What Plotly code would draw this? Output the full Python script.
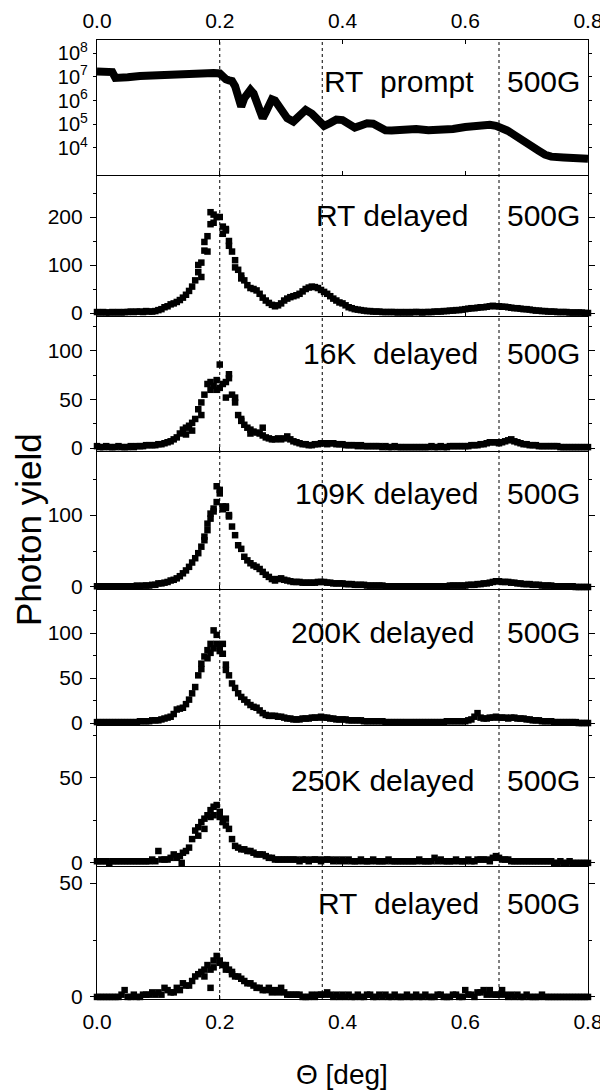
import numpy as np
import plotly.graph_objects as go

# ---------------- data ----------------
# prompt signal (top panel, log scale)
prompt_theta = [0, 0.01, 0.02, 0.025, 0.03, 0.04, 0.05, 0.07, 0.1, 0.13, 0.16, 0.19, 0.2, 0.205,
                0.21, 0.215, 0.22, 0.225, 0.23, 0.235, 0.24, 0.245, 0.25, 0.255, 0.26, 0.265, 0.27,
                0.275, 0.28, 0.285, 0.29, 0.295, 0.3, 0.31, 0.32, 0.33, 0.34, 0.35, 0.36, 0.37, 0.38,
                0.39, 0.40, 0.41, 0.42, 0.43, 0.44, 0.45, 0.46, 0.47, 0.48, 0.5, 0.52, 0.54, 0.56,
                0.58, 0.6, 0.62, 0.64, 0.65, 0.66, 0.67, 0.68, 0.69, 0.7, 0.71, 0.72, 0.73, 0.74,
                0.76, 0.78, 0.8]
prompt_yield = [1.66e7, 1.66e7, 1.78e7, 1.58e7, 8.9e6, 8.5e6, 9.5e6, 1.07e7, 1.2e7, 1.32e7, 1.38e7,
                1.45e7, 1.38e7, 1.0e7, 7.9e6, 7.1e6, 6.6e6, 4.0e6, 1.6e6, 5.5e5, 1.26e6, 2.2e6, 2.8e6,
                2.0e6, 1.0e6, 4.0e5, 1.8e5, 3.2e5, 7.1e5, 1.12e6, 1.0e6, 6.3e5, 4.0e5, 1.8e5, 1.3e5,
                2.5e5, 4.0e5, 2.8e5, 1.4e5, 8.5e4, 1.12e5, 1.58e5, 1.5e5, 1.0e5, 7.2e4, 8.9e4, 1.1e5,
                1.05e5, 7.6e4, 5.6e4, 5.4e4, 6.3e4, 6.3e4, 5.6e4, 5.4e4, 6.3e4, 7.6e4, 8.9e4, 9.5e4,
                8.5e4, 7.1e4, 5.2e4, 3.5e4, 2.5e4, 1.8e4, 1.12e4, 7.6e3, 5.2e3, 4.3e3, 4.0e3, 3.8e3,
                3.5e3]

# delayed signals: common scan grid 0.000 ... 0.800 (step 0.005)
theta = np.round(np.arange(161) * 0.005, 3)

rt_delayed = [2, 1, 2, 1, 1, 2, 1, 2, 1, 2, 2, 3, 2, 3, 3, 2, 4, 3, 3, 4,
              6, 8, 12, 14, 18, 20, 23, 27, 32, 38, 46, 55, 68, 85, 105, 130, 160, 185, 205, 200,
              200, 180, 172, 150, 128, 110, 90, 78, 68, 58, 52, 50, 47, 40, 32, 26, 21, 17, 14, 16,
              20, 26, 30, 33, 35, 37, 40, 45, 50, 53, 55, 54, 52, 48, 44, 40, 35, 30, 26, 22,
              20, 16, 12, 10, 8, 7, 6, 5, 4, 4, 3, 3, 3, 2, 2, 2, 2, 2, 1, 2,
              1, 2, 1, 2, 2, 2, 1, 2, 2, 2, 3, 3, 3, 4, 4, 5, 5, 6, 6, 7,
              8, 9, 10, 10, 11, 12, 12, 13, 14, 15, 14, 14, 13, 13, 12, 11, 10, 10, 9, 8,
              8, 7, 6, 5, 5, 4, 4, 3, 3, 3, 2, 2, 2, 2, 1, 1, 1, 1, 1, 0, 0]
rt_delayed_x2 = [0.165, 0.175, 0.185, 0.19, 0.205, 0.21, 0.215, 0.225, 0.235, 0.17, 0.18]
rt_delayed_y2 = [100, 148, 210, 188, 165, 175, 140, 95, 72, 75, 128]

k16_delayed = [2, 1, 1, 2, 1, 1, 1, 2, 1, 1, 1, 2, 1, 2, 2, 2, 3, 3, 3, 3,
               4, 4, 5, 6, 7, 9, 11, 15, 19, 21, 23, 26, 30, 40, 47, 55, 66, 68, 64, 60,
               62, 66, 68, 72, 55, 47, 34, 30, 24, 21, 19, 17, 16, 15, 13, 11, 10, 9, 9, 10,
               9, 10, 12, 9, 7, 6, 5, 4, 4, 3, 3, 4, 4, 5, 5, 4, 5, 5, 4, 4,
               4, 3, 3, 3, 3, 2, 3, 2, 2, 2, 2, 2, 2, 1, 2, 1, 1, 2, 1, 1,
               1, 1, 1, 1, 1, 1, 1, 1, 1, 2, 1, 1, 2, 1, 1, 2, 2, 2, 2, 2,
               2, 2, 3, 3, 3, 4, 4, 5, 6, 6, 6, 5, 6, 7, 8, 9, 7, 6, 5, 4,
               4, 3, 3, 3, 2, 2, 2, 2, 2, 2, 2, 1, 1, 1, 1, 1, 1, 1, 1, 1, 1]
k16_delayed_x2 = [0.2, 0.195, 0.21, 0.185, 0.215, 0.17, 0.155, 0.145, 0.27, 0.225, 0.235, 0.25]
k16_delayed_y2 = [86, 70, 52, 60, 76, 34, 18, 14, 21, 52, 28, 15]

k109_delayed = [1, 1, 1, 1, 1, 1, 1, 1, 1, 1, 1, 1, 1, 2, 1, 2, 2, 2, 3, 3,
                5, 5, 6, 7, 9, 10, 12, 15, 19, 23, 28, 34, 40, 47, 56, 65, 79, 95, 105, 118,
                135, 112, 110, 98, 84, 72, 58, 53, 42, 37, 33, 30, 28, 25, 21, 17, 14, 11, 9, 11,
                12, 10, 9, 8, 7, 7, 7, 6, 6, 6, 6, 6, 7, 7, 7, 6, 6, 5, 5, 5,
                5, 4, 4, 4, 3, 3, 3, 3, 2, 2, 2, 2, 2, 2, 1, 1, 1, 1, 1, 1,
                1, 1, 1, 1, 1, 1, 1, 1, 1, 1, 1, 1, 1, 1, 1, 2, 2, 2, 2, 2,
                2, 3, 3, 3, 4, 4, 5, 5, 6, 7, 8, 8, 7, 7, 7, 6, 6, 5, 5, 4,
                4, 4, 3, 3, 3, 2, 2, 2, 2, 1, 1, 1, 1, 1, 1, 1, 0, 0, 0, 0, 0]
k109_delayed_x2 = [0.185, 0.19, 0.2, 0.195, 0.205, 0.21, 0.18, 0.215, 0.175]
k109_delayed_y2 = [102, 109, 130, 140, 108, 112, 88, 100, 70]

k200_delayed = [1, 1, 1, 1, 1, 1, 1, 1, 1, 1, 1, 1, 1, 1, 2, 2, 2, 2, 3, 3,
                3, 4, 5, 6, 7, 10, 15, 16, 17, 21, 26, 33, 40, 53, 66, 74, 81, 88, 83, 88,
                86, 77, 59, 53, 44, 39, 33, 29, 26, 23, 20, 18, 17, 14, 11, 9, 8, 8, 8, 7,
                7, 6, 5, 5, 4, 4, 4, 5, 5, 5, 6, 6, 6, 7, 6, 6, 5, 5, 4, 4,
                4, 4, 3, 3, 3, 3, 3, 2, 2, 2, 2, 2, 2, 2, 1, 1, 1, 1, 1, 1,
                1, 1, 1, 1, 1, 1, 1, 1, 1, 1, 1, 1, 1, 1, 2, 2, 2, 2, 2, 2,
                2, 3, 4, 7, 11, 6, 5, 5, 6, 6, 7, 6, 6, 6, 5, 6, 6, 5, 5, 5,
                4, 4, 3, 3, 3, 2, 2, 2, 2, 1, 1, 1, 1, 1, 1, 1, 1, 0, 0, 0, 0]
k200_delayed_x2 = [0.19, 0.195, 0.205, 0.185, 0.18, 0.2, 0.21, 0.17]
k200_delayed_y2 = [103, 98, 88, 78, 72, 80, 65, 60]

k250_delayed = [1, 1, 1, 1, 0, 1, 1, 1, 1, 1, 1, 1, 1, 1, 1, 1, 1, 1, 2, 1,
                7, 2, 2, 2, 3, 5, 3, 4, 6, 7, 9, 14, 19, 21, 24, 26, 28, 31, 33, 34,
                27, 24, 26, 20, 14, 10, 9, 8, 8, 7, 7, 6, 5, 5, 5, 4, 3, 3, 2, 2,
                2, 2, 2, 2, 2, 2, 1, 2, 2, 1, 2, 2, 2, 1, 2, 2, 2, 1, 2, 1,
                2, 1, 2, 1, 1, 1, 2, 1, 1, 1, 2, 1, 1, 1, 1, 2, 1, 1, 1, 1,
                1, 1, 1, 1, 1, 2, 1, 1, 1, 1, 3, 1, 2, 1, 1, 1, 1, 2, 1, 1,
                1, 2, 1, 1, 2, 2, 2, 2, 1, 3, 4, 3, 2, 2, 2, 1, 1, 1, 1, 1,
                1, 1, 1, 1, 1, 1, 1, 1, 1, 0, 0, 1, 0, 0, 1, 0, 0, 0, 0, 0, 0]
k250_delayed_x2 = [0.138, 0.19, 0.185, 0.2, 0.21, 0.175, 0.165]
k250_delayed_y2 = [0, 28, 27, 30, 22, 20, 16]

rt2_delayed = [0, 0, 0, 0, 0, 0, 0, 0, 1, 3, 0, 0, 1, 0, 0, 1, 1, 1, 2, 1,
               2, 1, 4, 3, 2, 2, 4, 3, 6, 5, 5, 7, 9, 10, 11, 12, 14, 12, 16, 18,
               15, 14, 14, 12, 11, 9, 9, 8, 7, 6, 6, 5, 4, 4, 3, 3, 4, 2, 3, 2,
               4, 2, 1, 1, 1, 1, 1, 0, 0, 0, 1, 0, 1, 1, 1, 2, 1, 0, 1, 0,
               1, 0, 1, 0, 0, 1, 0, 0, 1, 1, 0, 0, 1, 0, 1, 0, 0, 1, 0, 0,
               0, 1, 0, 0, 1, 0, 0, 1, 0, 0, 0, 1, 1, 0, 0, 0, 1, 1, 0, 0,
               3, 1, 1, 0, 2, 2, 3, 1, 3, 1, 1, 1, 3, 1, 0, 1, 0, 1, 0, 0,
               1, 0, 0, 0, 0, 1, 0, 0, 0, 0, 0, 0, 0, 0, 0, 0, 0, 0, 0, 0, 0]
rt2_delayed_x2 = [0.185, 0.19, 0.2, 0.21, 0.175, 0.22]
rt2_delayed_y2 = [4, 13, 16, 12, 9, 10]

panel_labels = ["RT&nbsp;&nbsp;prompt", "RT delayed", "16K&nbsp;&nbsp;delayed", "109K delayed",
                "200K delayed", "250K delayed", "RT&nbsp;&nbsp;delayed"]
field_label = "500G"
x_ticks = [0.0, 0.2, 0.4, 0.6, 0.8]
x_ticktext = ["0.0", "0.2", "0.4", "0.6", "0.8"]
guide_lines = [0.2, 0.367, 0.655]

# ---------------- layout helpers ----------------
# the page body has an 8px margin, so the figure is made 8px smaller and
# all positions below are given in page pixels and converted.
OFF = 8
PAGE_W, PAGE_H = 608, 1091
W, H = PAGE_W - OFF, PAGE_H - OFF
PLOT_L, PLOT_R, PLOT_T, PLOT_B = 97, 588, 40, 999          # page pixels
ML, MR = PLOT_L - OFF, W - (PLOT_R - OFF)
MT, MB = PLOT_T - OFF, H - (PLOT_B - OFF)
PLOT_H = PLOT_B - PLOT_T
PLOT_W = PLOT_R - PLOT_L


def py(page_y):
    return (PLOT_B - page_y) / PLOT_H


def px(page_x):
    return (page_x - PLOT_L) / PLOT_W


bounds = [40, 175, 316, 451, 589, 725, 866, 999]
ranges = [None, [-6.25, 287.5], [-3, 136], [-2.8, 189], [-2.2, 149], [-1.8, 81], [-0.9, 57.5]]
dticks = [None, 100, 50, 100, 50, 50, 50]
label_x = [0.367, 0.354, 0.332, 0.32, 0.313, 0.313, 0.357]
label_y = [82, 215, 353, 493, 632, 780, 903]

FONT = "Liberation Sans, Arial, sans-serif"
TICKFONT = dict(family=FONT, size=21, color="black")

fig = go.Figure()

fig.add_trace(go.Scatter(x=prompt_theta, y=prompt_yield, mode="lines",
                         line=dict(color="black", width=8), xaxis="x", yaxis="y",
                         showlegend=False, cliponaxis=False))

delayed = [(rt_delayed, rt_delayed_x2, rt_delayed_y2),
           (k16_delayed, k16_delayed_x2, k16_delayed_y2),
           (k109_delayed, k109_delayed_x2, k109_delayed_y2),
           (k200_delayed, k200_delayed_x2, k200_delayed_y2),
           (k250_delayed, k250_delayed_x2, k250_delayed_y2),
           (rt2_delayed, rt2_delayed_x2, rt2_delayed_y2)]

marker = dict(symbol="square", size=6.5, color="black")
for i, (yv, x2, y2) in enumerate(delayed, start=2):
    fig.add_trace(go.Scatter(x=theta, y=yv, mode="markers", marker=marker,
                             xaxis=f"x{i}", yaxis=f"y{i}", showlegend=False, cliponaxis=False))
    fig.add_trace(go.Scatter(x=x2, y=y2, mode="markers", marker=marker,
                             xaxis=f"x{i}", yaxis=f"y{i}", showlegend=False, cliponaxis=False))

layout = dict(width=W, height=H, margin=dict(l=ML, r=MR, t=MT, b=MB, pad=0),
              paper_bgcolor="white", plot_bgcolor="white", template="none",
              font=dict(family=FONT, color="black"), showlegend=False)

axis_common = dict(showgrid=False, zeroline=False, showline=True, linecolor="black",
                   linewidth=1.2, automargin=False)

for i in range(1, 8):
    dom = [py(bounds[i]), py(bounds[i - 1])]
    xname = "xaxis" if i == 1 else f"xaxis{i}"
    yname = "yaxis" if i == 1 else f"yaxis{i}"
    anchor_y = "y" if i == 1 else f"y{i}"
    xa = dict(axis_common, range=[0, 0.8], anchor=anchor_y, domain=[0, 1],
              ticks="inside", ticklen=4, tickcolor="black", tickvals=x_ticks,
              ticktext=x_ticktext, tickfont=TICKFONT, showticklabels=False)
    if i > 1:
        xa["matches"] = "x"
    if i == 1:
        xa.update(side="top", mirror="ticks", showticklabels=True, ticklabelstandoff=3)
    if i == 7:
        xa.update(side="bottom", showticklabels=True, ticklabelstandoff=4)
    layout[xname] = xa

    ya = dict(axis_common, domain=dom, anchor="x" if i == 1 else f"x{i}",
              ticks="outside", ticklen=6, tickcolor="black", mirror="ticks",
              tickfont=TICKFONT, ticklabelstandoff=3)
    if i == 1:
        ya.update(type="log", range=[2.86, 8.55],
                  tickvals=[1e4, 1e5, 1e6, 1e7, 1e8],
                  ticktext=[f"10<sup>{e}</sup>" for e in range(4, 9)],
                  tickfont=dict(family=FONT, size=20, color="black"), ticklen=3,
                  ticklabelstandoff=1)
    else:
        ya.update(range=ranges[i - 1], tick0=0, dtick=dticks[i - 1],
                  minor=dict(ticks="outside", ticklen=3, tickcolor="black",
                             dtick=dticks[i - 1] / 2))
    layout[yname] = ya

fig.update_layout(**layout)

# vertical dotted guide lines
for gx in guide_lines:
    fig.add_shape(type="line", xref="x", yref="paper", x0=gx, x1=gx, y0=0, y1=1,
                  line=dict(color="black", width=1, dash="dot"), layer="below")

ANNFONT = dict(family=FONT, size=30, color="black")
for i in range(7):
    fig.add_annotation(x=label_x[i], y=py(label_y[i]), xref="x", yref="paper",
                       text=panel_labels[i], showarrow=False, xanchor="left",
                       yanchor="middle", font=ANNFONT)
    fig.add_annotation(x=0.664, y=py(label_y[i]), xref="x", yref="paper",
                       text=field_label, showarrow=False, xanchor="left",
                       yanchor="middle", font=ANNFONT)

fig.add_annotation(x=px(28), y=py(530), xref="paper", yref="paper", text="Photon yield",
                   textangle=-90, showarrow=False, xanchor="center", yanchor="middle",
                   font=dict(family=FONT, size=35, color="black"))
fig.add_annotation(x=px(342), y=py(1074), xref="paper", yref="paper", text="Θ [deg]",
                   showarrow=False, xanchor="center", yanchor="middle",
                   font=dict(family=FONT, size=28, color="black"))

fig.write_html("out.html")
